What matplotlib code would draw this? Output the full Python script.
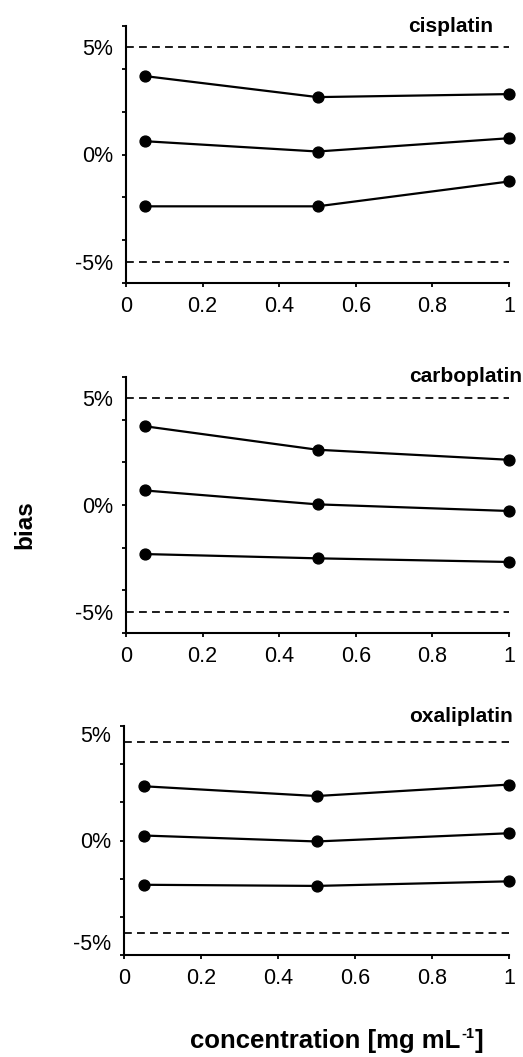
import matplotlib; matplotlib.use("Agg")
import matplotlib.pyplot as plt

plt.rcParams["font.family"] = ["Liberation Sans", "DejaVu Sans"]

# bias (%) of the three QC levels for each drug
drugs = ["cisplatin", "carboplatin", "oxaliplatin"]
conc = [[0.05, 0.5, 1.0], [0.05, 0.5, 1.0], [0.053, 0.5, 1.0]]
cis_bias = [[3.66, 2.68, 2.82], [0.62, 0.14, 0.76], [-2.42, -2.42, -1.26]]
carbo_bias = [[3.69, 2.59, 2.12], [0.68, 0.03, -0.28], [-2.30, -2.50, -2.67]]
oxali_bias = [[2.84, 2.33, 2.93], [0.26, -0.05, 0.38], [-2.32, -2.38, -2.14]]
all_bias = [cis_bias, carbo_bias, oxali_bias]
# acceptance limits (dashed) and where the "5%/0%/-5%" labels sit
limits = [(5, -5), (5, -5), (5.15, -4.85)]
label_pos = [[5, 0, -5], [5, 0, -5], [5.6, 0, -5.3]]
label_txt = ["5%", "0%", "-5%"]
xticks = [0, 0.2, 0.4, 0.6, 0.8, 1]
xticklabels = ["0", "0.2", "0.4", "0.6", "0.8", "1"]

W, H = 523, 1057
fig = plt.figure(figsize=(W/100, H/100), dpi=100)
boxes = [(126, 26, 509, 283), (126, 377, 509, 633), (124, 726, 509, 955)]   # px: l, t, r, b
title_xy = [(0.958, 1.0), (1.034, 1.0), (1.01, 1.04)]

for i, (l, t, r, b) in enumerate(boxes):
    ax = fig.add_axes([l/W, 1 - b/H, (r - l)/W, (b - t)/H])
    for lim in limits[i]:
        ax.axhline(lim, color="black", lw=1.25, ls=(0, (4.5, 3)), zorder=1)
    for series in all_bias[i]:
        ax.plot(conc[i], series, color="black", lw=1.6, marker="o", ms=7.8,
                clip_on=False, zorder=3)
    ax.set_xlim(0, 1); ax.set_ylim(-6, 6)
    ax.set_xticks(xticks); ax.set_xticklabels(xticklabels)
    ax.yaxis.remove_overlapping_locs = False
    ax.set_yticks([-6, -4, -2, 0, 2, 4, 6]); ax.set_yticklabels([])
    ax.set_yticks(label_pos[i], minor=True)
    ax.set_yticklabels(label_txt, minor=True)
    ax.tick_params(axis="x", direction="out", length=3, width=1.3, labelsize=15.5, pad=6.5)
    ax.tick_params(axis="y", which="major", direction="out", length=3, width=1.3)
    ax.tick_params(axis="y", which="minor", length=0, labelsize=15.5, pad=9.5)
    for s in ["top", "right"]:
        ax.spines[s].set_visible(False)
    for s in ["left", "bottom"]:
        ax.spines[s].set_linewidth(1.5)
    ax.patch.set_alpha(0)
    ax.text(*title_xy[i], drugs[i], transform=ax.transAxes,
            ha="right", va="center", fontsize=15, fontweight="bold", clip_on=False)

fig.text(25/W, 1 - 525/H, "bias", rotation=90, ha="center", va="center",
         fontsize=17.5, fontweight="bold")

# x label built from pieces so the superscript stays small like the original
rend = fig.canvas.get_renderer()
base_y = 1 - 1048/H
t1 = fig.text(190/W, base_y, "concentration [mg mL", ha="left", va="baseline",
              fontsize=18.5, fontweight="bold")
bb = t1.get_window_extent(rend)
t2 = fig.text(bb.x1/W + 0.002, base_y + 0.009, "-1", ha="left", va="baseline",
              fontsize=10.5, fontweight="bold")
bb2 = t2.get_window_extent(rend)
fig.text(bb2.x1/W + 0.001, base_y, "]", ha="left", va="baseline",
         fontsize=18.5, fontweight="bold")

fig.savefig("out.png", dpi=100)
